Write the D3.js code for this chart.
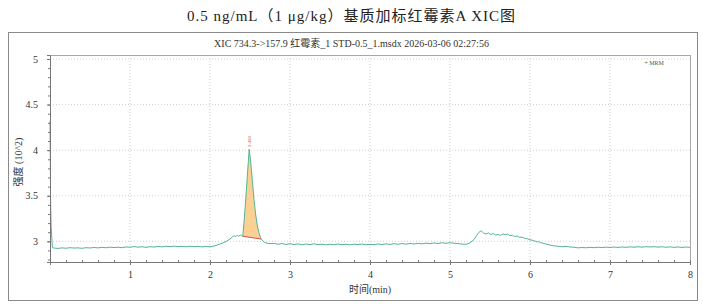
<!DOCTYPE html>
<html>
<head>
<meta charset="utf-8">
<script src="https://cdn.jsdelivr.net/npm/d3@7"></script>
<style>
  body { margin: 0; background: #fff; }
  text { font-family: "Liberation Serif", "Noto Sans CJK SC", serif; }
</style>
</head>
<body>
<div id="chart"></div>
<script>
// chart text
const title = "0.5 ng/mL（1 μg/kg）基质加标红霉素A XIC图";
const subtitle = "XIC 734.3->157.9 红霉素_1 STD-0.5_1.msdx  2026-03-06 02:27:56";
const xLabel = "时间(min)";
const yLabel = "强度 (10^2)";

// ticks
const xTicks = [1, 2, 3, 4, 5, 6, 7, 8];
const yTicks = [3, 3.5, 4, 4.5, 5];

// trace: [time (min), intensity (10^2)]
const trace = [
  [0.00,4.32],[0.008,3.40],[0.015,3.15],[0.03,2.93],[0.06,2.925],[0.10,2.922],[0.15,2.928],[0.20,2.924],
  [0.25,2.930],[0.30,2.926],[0.35,2.928],[0.40,2.923],[0.45,2.930],[0.50,2.927],[0.55,2.932],[0.60,2.928],
  [0.65,2.934],[0.70,2.929],[0.75,2.936],[0.80,2.931],[0.85,2.935],[0.90,2.930],[0.95,2.938],[1.00,2.935],
  [1.05,2.942],[1.10,2.936],[1.15,2.940],[1.20,2.934],[1.25,2.941],[1.30,2.937],[1.35,2.944],[1.40,2.939],
  [1.45,2.946],[1.50,2.942],[1.55,2.947],[1.60,2.941],[1.65,2.945],[1.70,2.940],[1.75,2.946],[1.80,2.941],
  [1.85,2.944],[1.90,2.939],[1.95,2.943],[2.00,2.940],
  [2.05,2.948],[2.10,2.962],[2.15,2.978],[2.20,2.998],[2.25,3.025],[2.28,3.048],[2.30,3.062],[2.32,3.050],
  [2.34,3.068],[2.36,3.055],[2.38,3.070],[2.40,3.058],[2.41,3.055],
  [2.43,3.26],[2.45,3.50],[2.47,3.76],[2.49,4.01],[2.51,3.86],[2.53,3.66],[2.55,3.46],[2.57,3.30],
  [2.59,3.18],[2.61,3.10],[2.63,3.045],[2.64,3.025],
  [2.66,3.005],[2.68,2.990],[2.70,2.982],[2.75,2.974],[2.80,2.978],[2.85,2.968],[2.90,2.975],[2.95,2.966],
  [3.00,2.974],[3.05,2.965],[3.10,2.972],[3.15,2.962],[3.20,2.970],[3.25,2.964],[3.30,2.973],[3.35,2.963],
  [3.40,2.969],[3.45,2.961],[3.50,2.968],[3.55,2.962],[3.60,2.970],[3.65,2.963],[3.70,2.968],[3.75,2.961],
  [3.80,2.969],[3.85,2.964],[3.90,2.970],[3.95,2.962],[4.00,2.967],[4.05,2.963],[4.10,2.971],[4.15,2.965],
  [4.20,2.972],[4.25,2.966],[4.30,2.974],[4.35,2.968],[4.40,2.975],[4.45,2.969],[4.50,2.976],[4.55,2.971],
  [4.60,2.978],[4.65,2.972],[4.70,2.980],[4.75,2.974],[4.80,2.982],[4.85,2.976],[4.90,2.984],[4.95,2.978],
  [5.00,2.985],[5.05,2.979],[5.10,2.975],[5.15,2.969],[5.20,2.967],[5.25,2.982],[5.30,3.020],[5.33,3.060],
  [5.36,3.098],[5.39,3.115],[5.42,3.090],[5.45,3.080],[5.48,3.092],[5.51,3.074],[5.54,3.085],[5.57,3.068],
  [5.60,3.076],[5.63,3.064],[5.66,3.082],[5.69,3.072],[5.72,3.080],[5.75,3.062],[5.78,3.066],[5.81,3.052],
  [5.84,3.058],[5.87,3.044],[5.90,3.046],[5.93,3.034],[5.96,3.030],[6.00,3.016],[6.04,3.010],[6.08,2.996],
  [6.12,2.992],[6.16,2.978],[6.20,2.970],[6.25,2.958],[6.30,2.950],[6.35,2.946],[6.40,2.940],[6.45,2.944],
  [6.50,2.938],[6.55,2.935],[6.60,2.928],[6.65,2.932],[6.70,2.929],[6.75,2.934],[6.80,2.930],[6.85,2.935],
  [6.90,2.931],[6.95,2.936],[7.00,2.932],[7.05,2.937],[7.10,2.933],[7.15,2.938],[7.20,2.934],[7.25,2.939],
  [7.30,2.935],[7.35,2.940],[7.40,2.936],[7.45,2.941],[7.50,2.938],[7.55,2.941],[7.60,2.936],[7.65,2.940],
  [7.70,2.935],[7.75,2.939],[7.80,2.934],[7.85,2.938],[7.90,2.933],[7.95,2.937],[8.00,2.934]
];

// integrated peak
const peakApex = [2.49, 4.01];
const peakLabel = "2.490";
const peakStart = [2.41, 3.055];
const peakEnd = [2.64, 3.025];

const width = 703, height = 307;
const margin = {top: 55, right: 13, bottom: 45, left: 50};
const plotW = width - margin.left - margin.right;
const plotH = height - margin.top - margin.bottom;

const svg = d3.select('#chart').append('svg')
  .attr('width', width)
  .attr('height', height);

// title
svg.append('text')
  .attr('x', width / 2)
  .attr('y', 21)
  .attr('text-anchor', 'middle')
  .attr('font-size', '15px')
  .attr('letter-spacing', '1px')
  .attr('fill', '#222')
  .text(title);

// outer frame
svg.append('rect')
  .attr('x', 8.5).attr('y', 32.5)
  .attr('width', 689).attr('height', 268)
  .attr('fill', 'none')
  .attr('stroke', '#8a8a8a');

svg.append('text')
  .attr('x', width / 2)
  .attr('y', 47)
  .attr('text-anchor', 'middle')
  .attr('font-size', '10px')
  .attr('fill', '#333')
  .text(subtitle);

const g = svg.append('g')
  .attr('transform', `translate(${margin.left}, ${margin.top})`);

const x = d3.scaleLinear().domain([0, 8]).range([0, plotW]);
const y = d3.scaleLinear().domain([2.773, 5.044]).range([plotH, 0]);

// dotted grid
g.append('g')
  .selectAll('line')
  .data(xTicks.filter(d => d < 8))
  .join('line')
    .attr('x1', d => x(d)).attr('x2', d => x(d))
    .attr('y1', 0).attr('y2', plotH)
    .attr('stroke', '#cfcfcf')
    .attr('stroke-dasharray', '1,2');

g.append('g')
  .selectAll('line')
  .data(yTicks)
  .join('line')
    .attr('x1', 0).attr('x2', plotW)
    .attr('y1', d => y(d)).attr('y2', d => y(d))
    .attr('stroke', '#cfcfcf')
    .attr('stroke-dasharray', '1,2');

// plot border
g.append('rect')
  .attr('x', 0.5).attr('y', 0.5)
  .attr('width', plotW).attr('height', plotH)
  .attr('fill', 'none')
  .attr('stroke', '#a8a8a8');

// peak area
const peakPts = trace.filter(d => d[0] >= peakStart[0] && d[0] <= peakEnd[0]);
g.append('path')
  .datum(peakPts.concat([peakEnd, peakStart]))
  .attr('d', d3.line().x(d => x(d[0])).y(d => y(d[1])))
  .attr('fill', '#fbd193')
  .attr('stroke', 'none');

// trace
g.append('path')
  .datum(trace)
  .attr('d', d3.line().x(d => x(d[0])).y(d => y(d[1])))
  .attr('fill', 'none')
  .attr('stroke', '#55b592')
  .attr('stroke-width', 1);

// peak baseline
g.append('line')
  .attr('x1', x(peakStart[0])).attr('y1', y(peakStart[1]))
  .attr('x2', x(peakEnd[0])).attr('y2', y(peakEnd[1]))
  .attr('stroke', '#d9534f')
  .attr('stroke-width', 1);

// peak label
g.append('text')
  .attr('transform', `translate(${x(peakApex[0]) + 1.5}, ${y(peakApex[1]) - 2}) rotate(-90)`)
  .attr('font-size', '5px')
  .attr('fill', '#d9534f')
  .attr('font-family', 'Liberation Sans, sans-serif')
  .text(peakLabel);

// MRM tag
g.append('text')
  .attr('x', x(7.43))
  .attr('y', 9.5)
  .attr('font-size', '6px')
  .attr('fill', '#555')
  .attr('font-family', 'Liberation Sans, sans-serif')
  .text('+ MRM');

// axes
const xMinor = d3.range(0, 8.01, 0.2);
const yMinor = d3.range(2.8, 5.01, 0.1);

const xAxis = g.append('g')
  .attr('transform', `translate(0, ${plotH})`);
xAxis.call(d3.axisBottom(x).tickValues(xMinor).tickSize(-2).tickFormat(''))
  .call(a => a.selectAll('line').attr('stroke', '#777'))
  .call(a => a.select('.domain').remove());
xAxis.append('g')
  .call(d3.axisBottom(x).tickValues(xTicks).tickSize(3).tickPadding(6).tickFormat(d3.format('d')))
  .call(a => a.select('.domain').attr('stroke', '#777'))
  .call(a => a.selectAll('line').attr('stroke', '#777'))
  .call(a => a.selectAll('text')
    .attr('font-size', '10px')
    .attr('fill', '#333')
    .attr('font-family', 'Liberation Serif, serif'));

const yAxis = g.append('g');
yAxis.call(d3.axisLeft(y).tickValues(yMinor).tickSize(2).tickFormat(''))
  .call(a => a.selectAll('line').attr('stroke', '#777'))
  .call(a => a.select('.domain').remove());
yAxis.append('g')
  .call(d3.axisLeft(y).tickValues(yTicks).tickSize(3).tickPadding(9).tickFormat(d3.format('')))
  .call(a => a.select('.domain').attr('stroke', '#777'))
  .call(a => a.selectAll('line').attr('stroke', '#777'))
  .call(a => a.selectAll('text')
    .attr('font-size', '10px')
    .attr('fill', '#333')
    .attr('font-family', 'Liberation Serif, serif'));

// axis titles
svg.append('text')
  .attr('x', margin.left + plotW / 2)
  .attr('y', 293)
  .attr('text-anchor', 'middle')
  .attr('font-size', '10px')
  .attr('fill', '#333')
  .text(xLabel);

svg.append('text')
  .attr('transform', `translate(22, 162) rotate(-90)`)
  .attr('text-anchor', 'middle')
  .attr('font-size', '10px')
  .attr('fill', '#333')
  .text(yLabel);
</script>
</body>
</html>
